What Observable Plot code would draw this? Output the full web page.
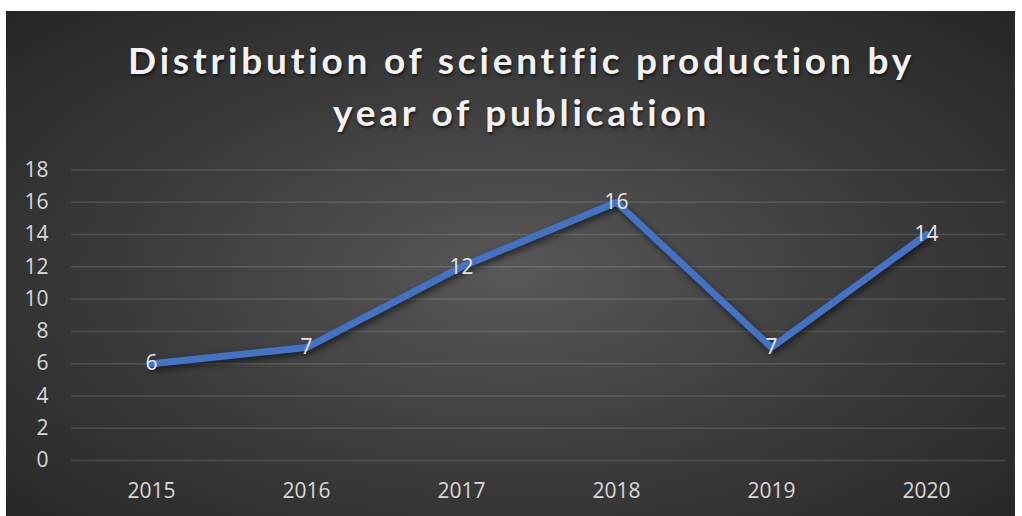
<!DOCTYPE html>
<html>
<head>
<meta charset="utf-8">
<script src="https://cdn.jsdelivr.net/npm/d3@7"></script>
<script src="https://cdn.jsdelivr.net/npm/@observablehq/plot@0.6"></script>
<style>
  html, body { margin: 0; padding: 0; background: #ffffff; }
  #chart {
    position: absolute; left: 6px; top: 11px; width: 1009px; height: 505px;
    background: radial-gradient(ellipse farthest-corner at 50% 52%, #585858 0%, #3a3a3a 55%, #262626 100%);
    overflow: hidden;
  }
  #title {
    position: absolute; left: 11px; width: 1009px; top: 23px;
    text-align: center; color: #f2f2f2;
    font-family: Lato, "Open Sans", sans-serif; font-weight: 700;
    font-size: 37px; line-height: 52px; letter-spacing: 3.8px;
    text-shadow: 1px 2px 3px rgba(0,0,0,0.65);
  }
  #plot { position: absolute; left: 0; top: 129px; }
</style>
</head>
<body>
<div id="chart">
  <div id="title">Distribution of scientific production by<br>year of publication</div>
  <div id="plot"></div>
</div>
<script>
const years = ["2015", "2016", "2017", "2018", "2019", "2020"];
const counts = [6, 7, 12, 16, 7, 14];
const yTicks = [0, 2, 4, 6, 8, 10, 12, 14, 16, 18];

const data = years.map((y, i) => ({year: y, value: counts[i]}));

const svg = Plot.plot({
  width: 1009,
  height: 376,
  marginTop: 29.5,
  marginBottom: 56,
  marginLeft: 65,
  marginRight: 10,
  style: {background: "transparent", color: "#d9d9d9", fontFamily: "'Open Sans', sans-serif", fontSize: "21px"},
  x: {type: "point", domain: years, padding: 0.5, label: null},
  y: {domain: [0, 18], label: null},
  marks: [
    Plot.ruleY(yTicks, {stroke: "#ffffff", strokeOpacity: 0.13, strokeWidth: 1.5}),
    Plot.axisY({ticks: yTicks, tickSize: 0, tickPadding: 23, label: null, fill: "#d9d9d9", fontSize: 21}),
    Plot.axisX({tickSize: 0, tickPadding: 23, label: null, fill: "#d9d9d9", fontSize: 21}),
    Plot.line(data, {x: "year", y: "value", stroke: "#4472C4", strokeWidth: 7, strokeLinejoin: "round", strokeLinecap: "round"}),
    Plot.text(data, {x: "year", y: "value", text: d => String(d.value), fill: "#e6e6e6", fontSize: 21})
  ]
});

d3.select(svg).selectAll('g[aria-label="line"]').style("filter", "drop-shadow(2px 3px 3px rgba(0,0,0,0.6))");
document.getElementById("plot").appendChild(svg);
</script>
</body>
</html>
